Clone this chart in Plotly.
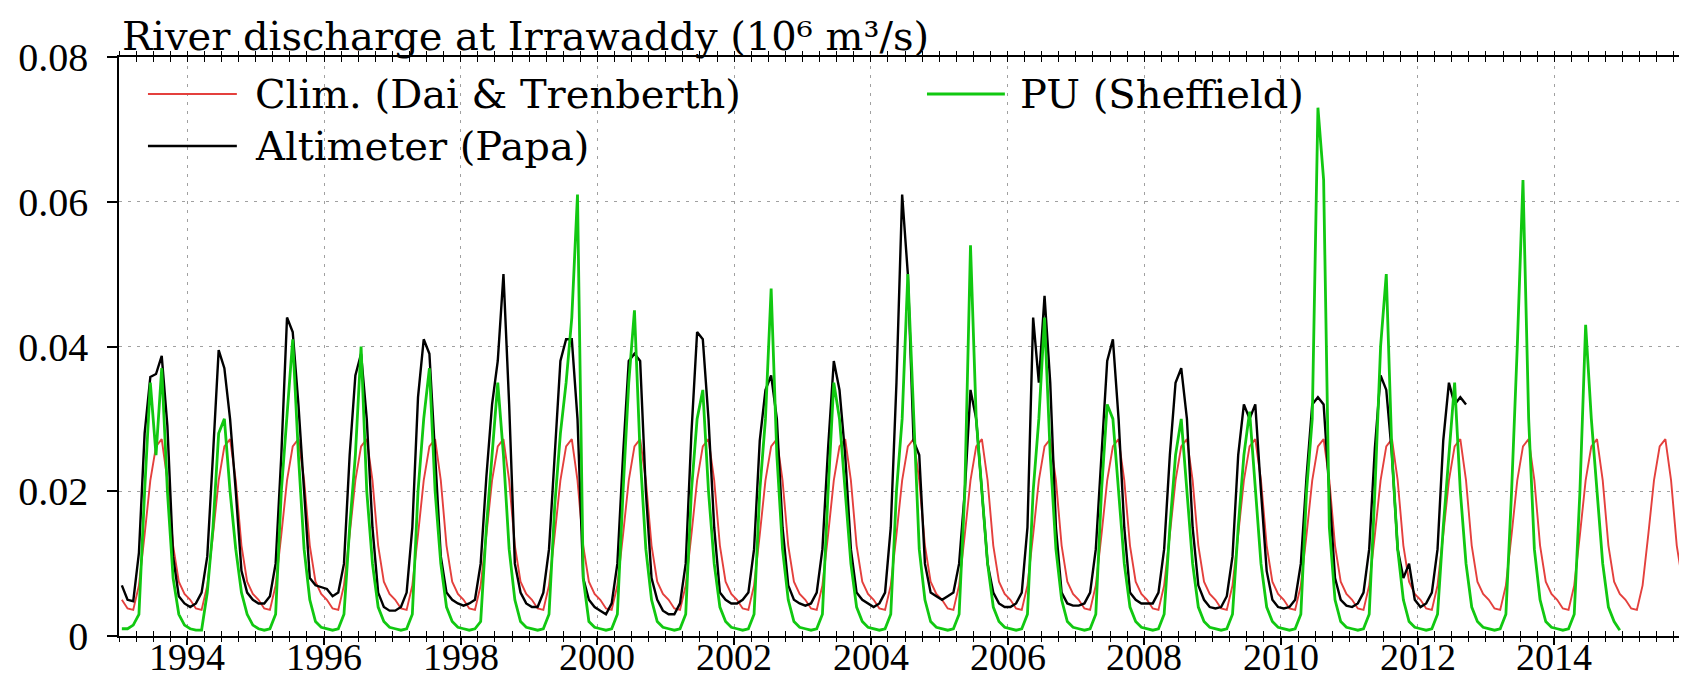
import plotly.graph_objects as go

# ---------------- data (10^6 m^3/s), monthly, mid-month ----------------
clim_months = [0.0050, 0.0038, 0.0036, 0.0070, 0.0140, 0.0215,
               0.0262, 0.0272, 0.0215, 0.0125, 0.0075, 0.0058]
clim_first_year = 1993
clim_n_years = 23

alt_first_year = 1993
alt_values = [
    0.0070, 0.0050, 0.0048, 0.0115, 0.0280, 0.0358, 0.0362, 0.0387, 0.0290, 0.0110, 0.0055, 0.0045,  # 1993
    0.0040, 0.0045, 0.0060, 0.0110, 0.0250, 0.0395, 0.0370, 0.0300, 0.0200, 0.0090, 0.0060, 0.0050,  # 1994
    0.0045, 0.0045, 0.0055, 0.0100, 0.0250, 0.0440, 0.0420, 0.0320, 0.0200, 0.0080, 0.0070, 0.0068,  # 1995
    0.0065, 0.0055, 0.0060, 0.0100, 0.0250, 0.0360, 0.0390, 0.0300, 0.0150, 0.0060, 0.0040, 0.0035,  # 1996
    0.0035, 0.0040, 0.0060, 0.0150, 0.0330, 0.0410, 0.0390, 0.0250, 0.0110, 0.0060, 0.0050, 0.0045,  # 1997
    0.0042, 0.0045, 0.0050, 0.0100, 0.0220, 0.0320, 0.0380, 0.0500, 0.0320, 0.0100, 0.0060, 0.0045,  # 1998
    0.0040, 0.0040, 0.0060, 0.0120, 0.0250, 0.0380, 0.0410, 0.0410, 0.0300, 0.0080, 0.0050, 0.0040,  # 1999
    0.0035, 0.0030, 0.0045, 0.0100, 0.0250, 0.0380, 0.0390, 0.0380, 0.0200, 0.0080, 0.0050, 0.0035,  # 2000
    0.0030, 0.0030, 0.0045, 0.0100, 0.0280, 0.0420, 0.0410, 0.0300, 0.0150, 0.0060, 0.0050, 0.0045,  # 2001
    0.0045, 0.0050, 0.0060, 0.0120, 0.0270, 0.0340, 0.0360, 0.0300, 0.0150, 0.0070, 0.0050, 0.0045,  # 2002
    0.0042, 0.0045, 0.0060, 0.0120, 0.0260, 0.0380, 0.0340, 0.0250, 0.0120, 0.0060, 0.0050, 0.0045,  # 2003
    0.0040, 0.0045, 0.0060, 0.0150, 0.0350, 0.0610, 0.0500, 0.0270, 0.0250, 0.0100, 0.0060, 0.0055,  # 2004
    0.0050, 0.0055, 0.0060, 0.0100, 0.0200, 0.0340, 0.0300, 0.0200, 0.0100, 0.0060, 0.0045, 0.0040,  # 2005
    0.0040, 0.0045, 0.0060, 0.0150, 0.0440, 0.0350, 0.0470, 0.0350, 0.0150, 0.0060, 0.0045, 0.0042,  # 2006
    0.0042, 0.0045, 0.0060, 0.0120, 0.0250, 0.0380, 0.0410, 0.0300, 0.0150, 0.0060, 0.0050, 0.0045,  # 2007
    0.0045, 0.0045, 0.0060, 0.0120, 0.0250, 0.0350, 0.0370, 0.0300, 0.0150, 0.0070, 0.0050, 0.0040,  # 2008
    0.0038, 0.0040, 0.0055, 0.0110, 0.0250, 0.0320, 0.0300, 0.0320, 0.0200, 0.0090, 0.0050, 0.0040,  # 2009
    0.0038, 0.0040, 0.0050, 0.0100, 0.0220, 0.0320, 0.0330, 0.0320, 0.0200, 0.0080, 0.0050, 0.0042,  # 2010
    0.0040, 0.0045, 0.0060, 0.0120, 0.0260, 0.0360, 0.0340, 0.0250, 0.0120, 0.0080, 0.0100, 0.0050,  # 2011
    0.0040, 0.0045, 0.0060, 0.0120, 0.0270, 0.0350, 0.0320, 0.0330, 0.0320,                          # 2012
]

pu_first_year = 1993
pu_values = [
    0.0010, 0.0010, 0.0015, 0.0030, 0.0200, 0.0350, 0.0250, 0.0370, 0.0200, 0.0080, 0.0030, 0.0015,  # 1993
    0.0010, 0.0008, 0.0008, 0.0060, 0.0150, 0.0280, 0.0300, 0.0200, 0.0120, 0.0060, 0.0030, 0.0015,  # 1994
    0.0010, 0.0008, 0.0010, 0.0030, 0.0200, 0.0300, 0.0410, 0.0250, 0.0120, 0.0050, 0.0020, 0.0012,  # 1995
    0.0010, 0.0008, 0.0010, 0.0030, 0.0150, 0.0250, 0.0400, 0.0200, 0.0100, 0.0040, 0.0020, 0.0012,  # 1996
    0.0010, 0.0008, 0.0010, 0.0030, 0.0200, 0.0300, 0.0370, 0.0200, 0.0100, 0.0040, 0.0020, 0.0012,  # 1997
    0.0010, 0.0008, 0.0010, 0.0020, 0.0150, 0.0250, 0.0350, 0.0250, 0.0120, 0.0050, 0.0020, 0.0012,  # 1998
    0.0010, 0.0008, 0.0010, 0.0030, 0.0180, 0.0280, 0.0350, 0.0440, 0.0610, 0.0080, 0.0020, 0.0012,  # 1999
    0.0010, 0.0008, 0.0010, 0.0030, 0.0200, 0.0350, 0.0450, 0.0250, 0.0120, 0.0050, 0.0020, 0.0012,  # 2000
    0.0010, 0.0008, 0.0010, 0.0030, 0.0200, 0.0300, 0.0340, 0.0200, 0.0100, 0.0040, 0.0020, 0.0012,  # 2001
    0.0010, 0.0008, 0.0010, 0.0030, 0.0200, 0.0300, 0.0480, 0.0250, 0.0120, 0.0050, 0.0020, 0.0012,  # 2002
    0.0010, 0.0008, 0.0010, 0.0030, 0.0200, 0.0350, 0.0300, 0.0200, 0.0100, 0.0040, 0.0020, 0.0012,  # 2003
    0.0010, 0.0008, 0.0010, 0.0030, 0.0200, 0.0300, 0.0500, 0.0300, 0.0120, 0.0050, 0.0020, 0.0012,  # 2004
    0.0010, 0.0008, 0.0010, 0.0030, 0.0200, 0.0540, 0.0300, 0.0200, 0.0100, 0.0040, 0.0020, 0.0012,  # 2005
    0.0010, 0.0008, 0.0010, 0.0030, 0.0200, 0.0300, 0.0440, 0.0250, 0.0120, 0.0050, 0.0020, 0.0012,  # 2006
    0.0010, 0.0008, 0.0010, 0.0030, 0.0200, 0.0320, 0.0300, 0.0200, 0.0100, 0.0040, 0.0020, 0.0012,  # 2007
    0.0010, 0.0008, 0.0010, 0.0030, 0.0150, 0.0250, 0.0300, 0.0200, 0.0100, 0.0040, 0.0020, 0.0012,  # 2008
    0.0010, 0.0008, 0.0010, 0.0030, 0.0150, 0.0250, 0.0310, 0.0200, 0.0100, 0.0040, 0.0020, 0.0012,  # 2009
    0.0010, 0.0008, 0.0010, 0.0030, 0.0200, 0.0300, 0.0730, 0.0630, 0.0150, 0.0050, 0.0020, 0.0012,  # 2010
    0.0010, 0.0008, 0.0010, 0.0030, 0.0200, 0.0400, 0.0500, 0.0250, 0.0120, 0.0050, 0.0020, 0.0012,  # 2011
    0.0010, 0.0008, 0.0010, 0.0030, 0.0150, 0.0250, 0.0350, 0.0200, 0.0100, 0.0040, 0.0020, 0.0012,  # 2012
    0.0010, 0.0008, 0.0010, 0.0030, 0.0200, 0.0400, 0.0630, 0.0300, 0.0120, 0.0050, 0.0020, 0.0012,  # 2013
    0.0010, 0.0008, 0.0010, 0.0030, 0.0200, 0.0430, 0.0300, 0.0200, 0.0100, 0.0040, 0.0020, 0.0008,  # 2014
]

x_tick_years = [1994, 1996, 1998, 2000, 2002, 2004, 2006, 2008, 2010, 2012, 2014]
y_tick_values = [0, 0.02, 0.04, 0.06, 0.08]
y_tick_labels = ["0", "0.02", "0.04", "0.06", "0.08"]

title_text = "River discharge at Irrawaddy (10\u2076 m\u00b3/s)"
legend_names = ["Clim. (Dai & Trenberth)", "Altimeter (Papa)", "PU (Sheffield)"]

# ---------------- build time axes (decimal years, mid-month) ----------------
def monthly_time(first_year, n):
    return [first_year + (i + 0.5) / 12.0 for i in range(n)]

clim_values = clim_months * clim_n_years
clim_t = monthly_time(clim_first_year, len(clim_values))
alt_t = monthly_time(alt_first_year, len(alt_values))
pu_t = monthly_time(pu_first_year, len(pu_values))

RED = "#e4403d"
GREEN = "#11c811"
BLACK = "#000000"
TICKFONT = "Liberation Serif"
TEXTFONT = "DejaVu Serif"

# plot area in pixels
L, R, T, B = 111, 1685, 49, 628
W, H = 1687, 679

fig = go.Figure()
fig.add_trace(go.Scatter(x=clim_t, y=clim_values, mode="lines", name=legend_names[0],
                         line=dict(color=RED, width=1.9), showlegend=False))
fig.add_trace(go.Scatter(x=alt_t, y=alt_values, mode="lines", name=legend_names[1],
                         line=dict(color=BLACK, width=2.4), showlegend=False))
fig.add_trace(go.Scatter(x=pu_t, y=pu_values, mode="lines", name=legend_names[2],
                         line=dict(color=GREEN, width=2.8), showlegend=False))
for xa in ["x2", "x3", "x4", "x5", "x6", "x7"]:
    fig.add_trace(go.Scatter(x=[None], y=[None], xaxis=xa, yaxis="y",
                             showlegend=False, hoverinfo="skip"))

XR = [1993, 2016]
minor_axis = dict(range=XR, showgrid=False, zeroline=False, showticklabels=False,
                  tickmode="linear", tick0=1993, dtick=0.25, ticklen=5,
                  tickwidth=1.3, tickcolor="black", overlaying="x", anchor="y")

fig.update_layout(
    width=W, height=H,
    margin=dict(l=L, r=W - R, t=T, b=H - B),
    plot_bgcolor="white", paper_bgcolor="white",
    font=dict(family=TEXTFONT, color="black"),
    # main x axis: line + grid (ticks drawn by overlay axes, labels below)
    xaxis=dict(range=XR, tickmode="array", tickvals=x_tick_years,
               showticklabels=False,
               ticks="", showline=True, linecolor="black", linewidth=1.6,
               showgrid=True, gridcolor="#a0a0a0", gridwidth=1, griddash="3px,6px",
               zeroline=False),
    xaxis2=dict(minor_axis, side="bottom", ticks="outside"),
    xaxis3=dict(minor_axis, side="bottom", ticks="inside"),
    xaxis4=dict(minor_axis, side="top", ticks="", showline=True,
                linecolor="black", linewidth=1.6),
    xaxis5=dict(minor_axis, side="top", ticks="outside"),
    xaxis6=dict(minor_axis, side="top", ticks="inside"),
    xaxis7=dict(minor_axis, side="bottom", ticks="outside", tickmode="array",
                tickvals=x_tick_years, ticklen=8, tickwidth=1.6),
    yaxis=dict(range=[0, 0.08], tickmode="array", tickvals=y_tick_values, ticktext=y_tick_labels,
               ticks="outside", ticklen=10, tickwidth=1.5, tickcolor="black",
               showline=True, linecolor="black", linewidth=1.6, mirror=True,
               showgrid=True, gridcolor="#a0a0a0", gridwidth=1, griddash="3px,6px",
               zeroline=False, tickfont=dict(family=TICKFONT, size=40, color="black"),
               ticklabelstandoff=11),
)

def px_x(px):
    return (px - L) / float(R - L)

def px_y(py):
    return (B - py) / float(B - T)

# x tick labels, placed at the axis' own data positions, kept inside the page
for yr in x_tick_years:
    fig.add_annotation(text=str(yr), xref="x", yref="paper", x=yr, y=px_y(672),
                       xanchor="center", yanchor="bottom", showarrow=False,
                       font=dict(family=TICKFONT, size=38, color="black"))

# title: baseline just above the top frame (descenders touch it)
fig.add_annotation(text=title_text, xref="paper", yref="paper", x=px_x(112), y=px_y(53),
                   xanchor="left", yanchor="bottom", showarrow=False,
                   font=dict(family=TEXTFONT, size=40, color="black"))

# legend drawn as line samples + labels
legend_items = [
    (legend_names[0], RED, 140, 229, 245, 86, 1.9),
    (legend_names[1], BLACK, 140, 229, 245, 138, 2.4),
    (legend_names[2], GREEN, 920, 998, 1011, 86, 2.8),
]
for name, col, x0, x1, xt, yy, w in legend_items:
    fig.add_shape(type="line", xref="paper", yref="paper", x0=px_x(x0), x1=px_x(x1),
                  y0=px_y(yy), y1=px_y(yy), line=dict(color=col, width=w))
    fig.add_annotation(text=name, xref="paper", yref="paper", x=px_x(xt), y=px_y(yy),
                       xanchor="left", yanchor="middle", showarrow=False,
                       font=dict(family=TEXTFONT, size=40, color="black"))

fig.write_html("out.html")
